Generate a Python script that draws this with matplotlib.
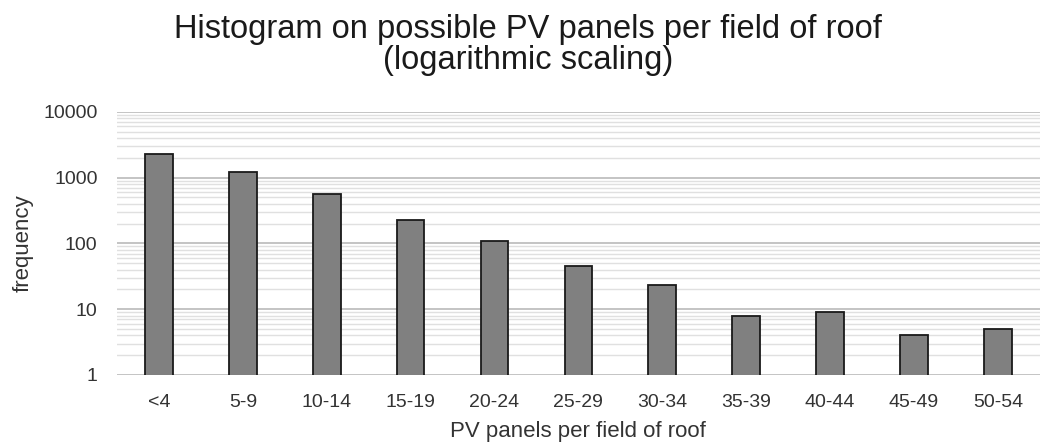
import matplotlib.pyplot as plt
import numpy as np
from matplotlib.ticker import LogLocator, FixedLocator

# panels per field of roof, binned
categories = ["<4", "5-9", "10-14", "15-19", "20-24", "25-29",
              "30-34", "35-39", "40-44", "45-49", "50-54"]
frequency = [2300, 1200, 570, 230, 110, 45, 23, 8, 9, 4, 5]
y_ticks = [1, 10, 100, 1000, 10000]
y_tick_labels = ["1", "10", "100", "1000", "10000"]


def main():
    plt.rcParams["font.family"] = ["Liberation Sans", "DejaVu Sans"]
    fig = plt.figure(figsize=(10.45, 4.43), dpi=100)
    ax = fig.add_axes([0.112, 0.1535, 0.883, 0.594])

    ax.set_yscale("log")
    x = np.arange(len(categories))
    ax.bar(x, frequency, width=0.33, color="#808080", edgecolor="#1a1a1a",
           linewidth=1.3, zorder=3)

    ax.set_ylim(1, 10000)
    ax.set_xlim(-0.5, len(categories) - 0.5)

    ax.yaxis.set_major_locator(FixedLocator(y_ticks))
    ax.set_yticklabels(y_tick_labels)
    ax.yaxis.set_minor_locator(LogLocator(base=10, subs=np.arange(2, 10)))
    ax.yaxis.set_minor_formatter(plt.NullFormatter())
    ax.set_xticks(x)
    ax.set_xticklabels(categories)

    ax.grid(axis="y", which="major", color="#bfbfbf", linewidth=1.3, zorder=0)
    ax.grid(axis="y", which="minor", color="#e0e0e0", linewidth=1.0, zorder=0)
    ax.tick_params(axis="both", which="both", length=0, labelsize=14,
                   labelcolor="#333333")
    ax.tick_params(axis="y", pad=14)
    ax.tick_params(axis="x", pad=14)
    for side in ["top", "right", "left", "bottom"]:
        ax.spines[side].set_visible(False)

    ax.set_xlabel("PV panels per field of roof", fontsize=16, color="#333333",
                  labelpad=7)
    ax.set_ylabel("frequency", fontsize=16, color="#333333", labelpad=7)

    fig.text(0.505, 0.969, "Histogram on possible PV panels per field of roof\n(logarithmic scaling)",
             ha="center", va="top", fontsize=23.5, color="#1a1a1a", linespacing=1.0)

    fig.savefig("out.png", dpi=100)


if __name__ == "__main__":
    main()
